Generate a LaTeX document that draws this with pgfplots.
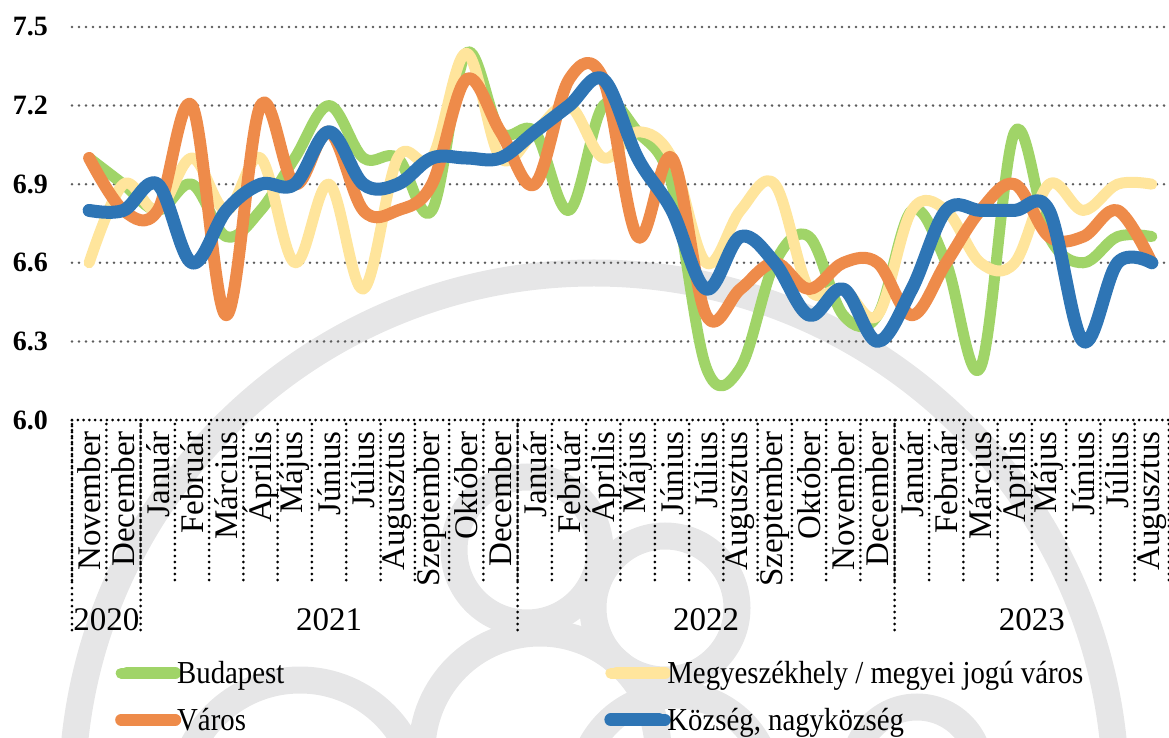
\documentclass[border=0pt]{standalone}
\usepackage{fontspec}
\setmainfont{Liberation Serif}
\newfontfamily\legendfont[FakeStretch=0.9]{Liberation Serif}
\usepackage{pgfplots}
\usepackage{pgfplotstable}
\pgfplotsset{compat=1.18}

\definecolor{cgreen}{HTML}{A0D468}
\definecolor{cyellow}{HTML}{FFE59C}
\definecolor{corange}{HTML}{EE8B4A}
\definecolor{cblue}{HTML}{2E75B5}
\definecolor{wm}{HTML}{E6E6E7}
\definecolor{gridgray}{HTML}{5C5C5C}

\pgfplotstableread{
x bud meg var koz
0 7.0 6.6 7.0 6.8
1 6.9 6.9 6.8 6.8
2 6.8 6.8 6.8 6.9
3 6.9 7.0 7.2 6.6
4 6.7 6.8 6.4 6.8
5 6.8 7.0 7.2 6.9
6 7.0 6.6 6.9 6.9
7 7.2 6.9 7.1 7.1
8 7.0 6.5 6.8 6.9
9 7.0 7.0 6.8 6.9
10 6.8 7.0 6.9 7.0
11 7.4 7.4 7.3 7.0
12 7.1 7.0 7.1 7.0
13 7.1 7.1 6.9 7.1
14 6.8 7.2 7.3 7.2
15 7.2 7.0 7.3 7.3
16 7.1 7.1 6.7 7.0
17 6.9 7.0 7.0 6.8
18 6.2 6.6 6.4 6.5
19 6.2 6.8 6.5 6.7
20 6.6 6.9 6.6 6.6
21 6.7 6.5 6.5 6.4
22 6.4 6.5 6.6 6.5
23 6.4 6.4 6.6 6.3
24 6.8 6.8 6.4 6.5
25 6.6 6.8 6.6 6.8
26 6.2 6.6 6.8 6.8
27 7.1 6.6 6.9 6.8
28 6.7 6.9 6.7 6.8
29 6.6 6.8 6.7 6.3
30 6.7 6.9 6.8 6.6
31 6.7 6.9 6.6 6.6
}\datatable

\newcommand{\catfont}{\fontsize{33}{33}\selectfont}

\begin{document}
\begin{tikzpicture}
\useasboundingbox (-72pt,-318pt) rectangle (1097pt,420pt);
% watermark
\begin{scope}
\clip (-72pt,-318pt) rectangle (1097pt,420pt);
\draw[wm, line width=27pt] (522pt,-375pt) circle[radius=522pt];
\draw[wm, line width=27pt] (455pt,-130pt) circle[radius=73pt];
\draw[wm, line width=27pt] (593pt,-188pt) circle[radius=72pt];
\draw[wm, line width=27pt] (468pt,-331pt) circle[radius=118pt];
\draw[wm, line width=27pt] (603pt,-370pt) circle[radius=95pt];
\draw[wm, line width=27pt] (845pt,-350pt) circle[radius=63pt];
\draw[wm, line width=27pt] (228pt,-380pt) circle[radius=120pt];
\end{scope}
\begin{axis}[
  at={(0pt,0pt)}, anchor=south west,
  scale only axis, width=1097pt, height=393pt,
  xmin=-0.5, xmax=31.5, ymin=6, ymax=7.5,
  clip=false,
  axis line style={draw=none},
  tick pos=left,
  tick align=outside,
  major tick length=0pt,
  major tick style={draw=none},
  ytick={6.3,6.6,6.9,7.2,7.5},
  extra y ticks={6.0},
  extra y tick labels={6.0},
  extra y tick style={grid=none},
  ymajorgrids,
  major grid style={gridgray, line width=2.8pt, dash pattern=on 0pt off 7pt, line cap=round},
  /pgf/number format/assume math mode=true,
  yticklabel style={font=\fontsize{28}{28}\selectfont\bfseries, inner sep=0pt, xshift=-24pt,
    /pgf/number format/fixed, /pgf/number format/fixed zerofill, /pgf/number format/precision=1},
  xtick={0,...,31},
  xticklabels={November,December,Január,Február,Március,Április,Május,Június,Július,Augusztus,Szeptember,Október,December,Január,Február,Április,Május,Június,Július,Augusztus,Szeptember,Október,November,December,Január,Február,Március,Április,Május,Június,Július,Augusztus},
  xticklabel style={rotate=90, anchor=east, font=\catfont, inner sep=0pt},
  xticklabel shift=11pt,
  minor xtick={-0.5,0.5,...,31.5},
  minor tick length=160pt,
  minor x tick style={black, line width=3pt, dash pattern=on 0pt off 6pt, line cap=round},
  no markers,
  legend columns=2,
  legend cell align=left,
  legend style={at={(axis description cs:0,0)}, anchor=north west, xshift=43pt, yshift=-239pt,
    draw=none, fill=none, inner sep=0pt, font=\legendfont\fontsize{32}{34}\selectfont,
    row sep=19pt,
    /tikz/every even column/.append style={column sep=318pt}},
  legend image code/.code={\path (0pt,0pt) -- (48pt,0pt);
    \draw[#1, overlay, line width=12pt, line cap=round] (6pt,0pt) -- (54pt,0pt);},
]
\draw[black, line width=3pt, dash pattern=on 0pt off 5.8pt, line cap=round] (rel axis cs:0,0) -- (rel axis cs:1,0);
\pgfplotsinvokeforeach{-0.5,1.5,12.5,23.5}{
  \draw[black, line width=3pt, dash pattern=on 0pt off 6pt, line cap=round] (axis cs:#1,6) -- ++(0pt,-215pt);
}
\node[font=\catfont] at (axis cs:0.5,6) [yshift=-200pt] {2020};
\node[font=\catfont] at (axis cs:7,6) [yshift=-200pt] {2021};
\node[font=\catfont] at (axis cs:18,6) [yshift=-200pt] {2022};
\node[font=\catfont] at (axis cs:27.5,6) [yshift=-200pt] {2023};

\addplot[cgreen, line width=11pt, smooth, tension=0.6, line cap=round, line join=round] table[x=x, y=bud] {\datatable};
\addlegendentry{Budapest}
\addplot[cyellow, line width=11pt, smooth, tension=0.6, line cap=round, line join=round] table[x=x, y=meg] {\datatable};
\addlegendentry{Megyeszékhely / megyei jogú város}
\addplot[corange, line width=12pt, smooth, tension=0.6, line cap=round, line join=round] table[x=x, y=var] {\datatable};
\addlegendentry{Város}
\addplot[cblue, line width=13pt, smooth, tension=0.6, line cap=round, line join=round] table[x=x, y=koz] {\datatable};
\addlegendentry{Község, nagyközség}
\end{axis}
\end{tikzpicture}
\end{document}
